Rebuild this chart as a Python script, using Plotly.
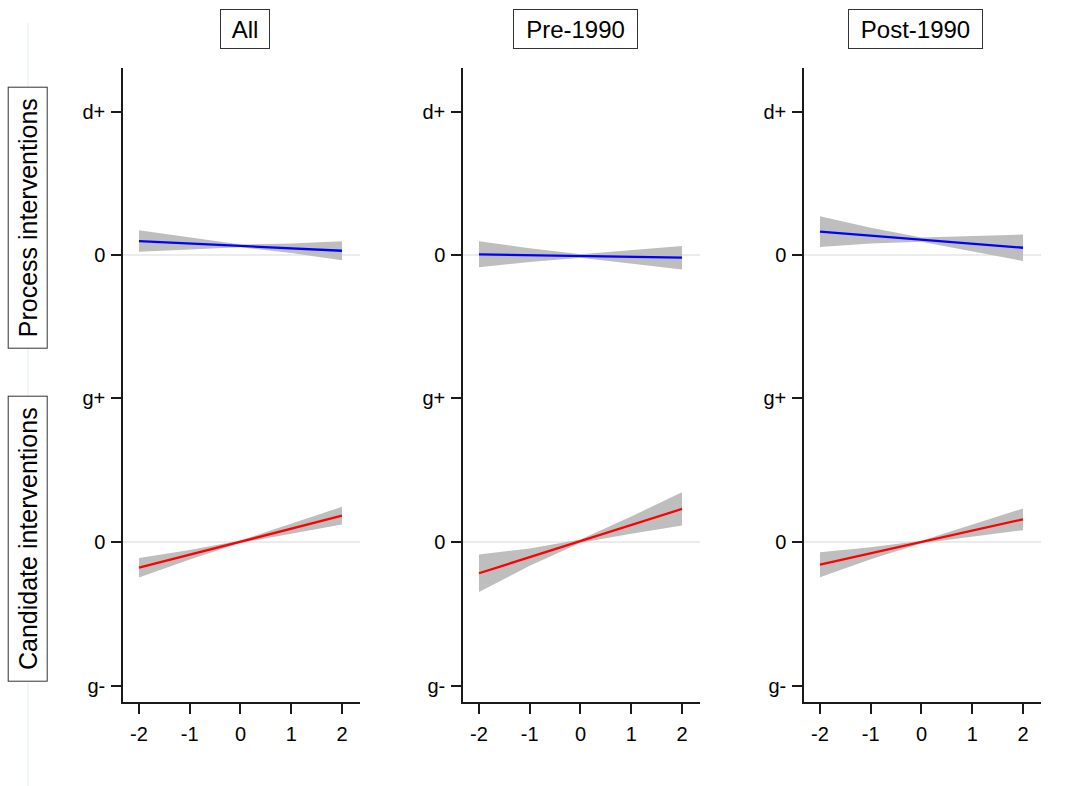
import plotly.graph_objects as go

# ---------------- data ----------------
x_pts = [-2, -1, 0, 1, 2]
columns = ["All", "Pre-1990", "Post-1990"]
rows = ["Process interventions", "Candidate interventions"]

# Process interventions (top row), units: d+ = 1
proc_all_fit = [0.098, 0.081, 0.064, 0.047, 0.030]
proc_all_hi = [0.173, 0.121, 0.074, 0.080, 0.096]
proc_all_lo = [0.023, 0.041, 0.054, 0.014, -0.037]

proc_pre_fit = [0.005, -0.001, -0.007, -0.013, -0.019]
proc_pre_hi = [0.096, 0.047, 0.005, 0.035, 0.064]
proc_pre_lo = [-0.086, -0.049, -0.019, -0.061, -0.102]

proc_post_fit = [0.164, 0.136, 0.108, 0.080, 0.051]
proc_post_hi = [0.272, 0.191, 0.123, 0.135, 0.144]
proc_post_lo = [0.056, 0.081, 0.093, 0.025, -0.042]

# Candidate interventions (bottom row), units: g+ = 1
cand_all_fit = [-0.179, -0.089, 0.002, 0.092, 0.183]
cand_all_hi = [-0.111, -0.056, 0.010, 0.125, 0.245]
cand_all_lo = [-0.247, -0.122, -0.006, 0.059, 0.121]

cand_pre_fit = [-0.218, -0.106, 0.006, 0.118, 0.230]
cand_pre_hi = [-0.087, -0.046, 0.018, 0.178, 0.346]
cand_pre_lo = [-0.349, -0.166, -0.006, 0.058, 0.114]

cand_post_fit = [-0.158, -0.079, 0.000, 0.079, 0.158]
cand_post_hi = [-0.071, -0.037, 0.008, 0.121, 0.234]
cand_post_lo = [-0.245, -0.121, -0.008, 0.037, 0.082]

top_tickvals = [1, 0]
top_ticktext = ["d+", "0"]
bot_tickvals = [1, 0, -1]
bot_ticktext = ["g+", "0", "g-"]
x_tickvals = [-2, -1, 0, 1, 2]
x_ticktext = ["-2", "-1", "0", "1", "2"]

# ---------------- figure ----------------
W, H = 1076, 786
FONT = "Liberation Sans, Arial, Helvetica, sans-serif"
AXC = "#1a1a1a"
TICKSIZE = 20

panels = [
    (0, 0, proc_all_fit, proc_all_hi, proc_all_lo, "#0000ff"),
    (0, 1, proc_pre_fit, proc_pre_hi, proc_pre_lo, "#0000ff"),
    (0, 2, proc_post_fit, proc_post_hi, proc_post_lo, "#0000ff"),
    (1, 0, cand_all_fit, cand_all_hi, cand_all_lo, "#ff0000"),
    (1, 1, cand_pre_fit, cand_pre_hi, cand_pre_lo, "#ff0000"),
    (1, 2, cand_post_fit, cand_post_hi, cand_post_lo, "#ff0000"),
]

col_px = [(123, 360), (463, 700), (804, 1041)]
row_px = [(68, 327), (327, 702)]
row_ranges = [(-0.505, 1.312), (-1.115, 1.498)]
x_range = [-2.315, 2.355]

fig = go.Figure()
layout = dict(
    width=W, height=H,
    margin=dict(l=0, r=0, t=0, b=0),
    paper_bgcolor="white", plot_bgcolor="white",
    showlegend=False,
    font=dict(family=FONT, size=TICKSIZE, color="black"),
)

for r in range(2):
    for c in range(3):
        idx = r * 3 + c + 1
        xa = "xaxis" if idx == 1 else f"xaxis{idx}"
        ya = "yaxis" if idx == 1 else f"yaxis{idx}"
        xref = "x" if idx == 1 else f"x{idx}"
        yref = "y" if idx == 1 else f"y{idx}"
        x0, x1 = col_px[c]
        p0, p1 = row_px[r]
        layout[xa] = dict(
            domain=[x0 / W, x1 / W], range=x_range, anchor=yref,
            visible=(r == 1), showgrid=False, zeroline=False,
            showline=True, linecolor=AXC, linewidth=1.5,
            ticks="outside", ticklen=10, tickwidth=1.5, tickcolor=AXC,
            tickvals=x_tickvals, ticktext=x_ticktext, ticklabelstandoff=3,
            tickfont=dict(size=TICKSIZE, family=FONT, color="black"),
            fixedrange=True,
        )
        tv, tt = (top_tickvals, top_ticktext) if r == 0 else (bot_tickvals, bot_ticktext)
        layout[ya] = dict(
            domain=[1 - p1 / H, 1 - p0 / H], range=list(row_ranges[r]), anchor=xref,
            showgrid=False, zeroline=True, zerolinecolor="#ebebeb", zerolinewidth=2,
            showline=True, linecolor=AXC, linewidth=1.5,
            ticks="outside", ticklen=10, tickwidth=1.5, tickcolor=AXC,
            tickvals=tv, ticktext=tt, ticklabelstandoff=2,
            tickfont=dict(size=TICKSIZE, family=FONT, color="black"),
            fixedrange=True,
        )

for r, c, fit, hi, lo, col in panels:
    idx = r * 3 + c + 1
    xref = "x" if idx == 1 else f"x{idx}"
    yref = "y" if idx == 1 else f"y{idx}"
    fig.add_trace(go.Scatter(
        x=x_pts + x_pts[::-1], y=hi + lo[::-1],
        fill="toself", fillcolor="#bebebe", mode="lines",
        line=dict(width=0, color="#bebebe"), hoverinfo="skip",
        xaxis=xref, yaxis=yref,
    ))
    fig.add_trace(go.Scatter(
        x=x_pts, y=fit, mode="lines",
        line=dict(color=col, width=2.3),
        xaxis=xref, yaxis=yref,
    ))

annotations = []
col_centers = [245, 575.5, 915.5]
col_widths = [48, 123, 133]
for name, cx, bw in zip(columns, col_centers, col_widths):
    annotations.append(dict(
        text=name, xref="paper", yref="paper",
        x=cx / W, y=1 - 29 / H, xanchor="center", yanchor="middle",
        showarrow=False, font=dict(size=24, family=FONT, color="black"),
        bordercolor="#333333", borderwidth=1, borderpad=0,
        bgcolor="white", width=bw, height=38,
    ))

row_centers = [218, 539]
row_lengths = [260, 284]
for name, cy, bl in zip(rows, row_centers, row_lengths):
    annotations.append(dict(
        text=name, xref="paper", yref="paper",
        x=27.7 / W, y=1 - cy / H, xanchor="center", yanchor="middle",
        showarrow=False, textangle=-90,
        font=dict(size=25, family=FONT, color="black"),
        bordercolor="#333333", borderwidth=1, borderpad=0,
        bgcolor="white", width=bl, height=38,
    ))
layout["annotations"] = annotations

layout["shapes"] = [dict(
    type="line", xref="paper", yref="paper",
    x0=28 / W, x1=28 / W, y0=0, y1=1 - 23 / H,
    line=dict(color="#e3eded", width=1), layer="below",
)]

fig.update_layout(**layout)
fig.write_html("out.html")
